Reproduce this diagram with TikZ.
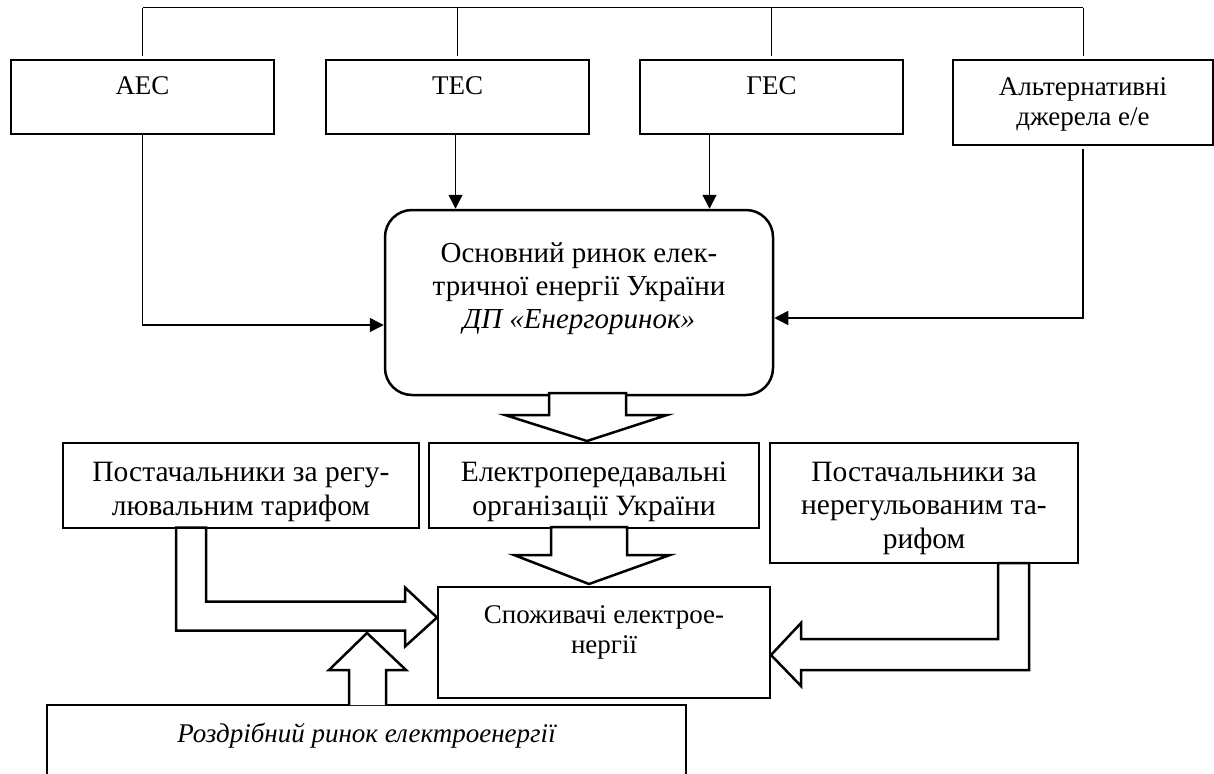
\documentclass[tikz,border=0pt]{standalone}
\usepackage{fontspec}
\setmainfont{Liberation Serif}
\usetikzlibrary{calc}
\usetikzlibrary{positioning}
\usetikzlibrary{shapes,arrows,arrows.meta}

\begin{document}
\begin{tikzpicture}[x=1pt, y=-1pt, >={Triangle[length=14pt,width=14pt]}]
            \path[use as bounding box, clip] (0,0) rectangle (1214,773);
            % Set primary nodes
            \tikzset{
                plantNode/.style={
                        draw,
                        rectangle,
                        line width=2pt,
                        inner sep=0pt,
                        minimum height=74pt,
                        minimum width=263pt,
                        align=center,
                        font=\fontsize{27}{30}\selectfont,
                        text height=18pt,
                        text depth=22pt
                    }
            }
            \tikzset{
                marketNode/.style={
                        draw,
                        rectangle,
                        rounded corners=27pt,
                        line width=2.5pt,
                        inner sep=0pt,
                        minimum height=185pt,
                        minimum width=388pt,
                        align=center,
                        font=\fontsize{29}{33}\selectfont,
                        text height=87pt,
                        text depth=36pt
                    }
            }
            \tikzset{
                supplierNode/.style={
                        draw,
                        rectangle,
                        line width=2pt,
                        inner sep=0pt,
                        minimum height=85pt,
                        align=center,
                        font=\fontsize{29.5}{33.5}\selectfont,
                        text height=59pt,
                        text depth=0pt
                    }
            }
            % Configure arrows
            \tikzstyle{busLine} = [line width=1pt]
            \tikzstyle{flowLine} = [line width=1.5pt, ->]
            \tikzstyle{blockArrow} = [draw, fill=white, line width=2.5pt, line join=miter]
            % Placing nodes
            \node[plantNode] (aes) at (142.5,97) {АЕС};
            \node[plantNode, right = 50pt of aes] (tes) {ТЕС};
            \node[plantNode, right = 49pt of tes] (ges) {ГЕС};
            \node[plantNode, minimum width=260pt, minimum height=85pt, text height=49pt, text depth=4pt] (alt) at (1083,102.5) {Альтернативні\\джерела е/е};
            \node[marketNode] (market) at (579,302.5) {Основний ринок елек-\\тричної енергії України\\\textit{ДП «Енергоринок»}};
            \node[supplierNode, minimum width=356pt] (supreg) at (241,485.5) {Постачальники за регу-\\лювальним тарифом};
            \node[supplierNode, minimum width=330pt, right = 8pt of supreg] (grid) {Електропередавальні\\організації України};
            \node[supplierNode, minimum width=308pt, minimum height=120pt, text height=90pt, right = 9pt of grid.north east, anchor=north west] (supfree) {Постачальники за\\нерегульованим та-\\рифом};
            \node[supplierNode, minimum width=332pt, minimum height=111pt, font=\fontsize{27}{30}\selectfont, text height=51pt, text depth=30pt] (consumers) at (604,642.5) {Споживачі електрое-\\нергії};
            \node[draw, rectangle, line width=2pt, minimum width=639pt, minimum height=90pt, font=\fontsize{27}{30}\selectfont\itshape, text height=18pt, text depth=33pt] (retail) at (366.5,750) {Роздрібний ринок електроенергії};
            % Draw bus lines
            \coordinate (bus) at (0,8);
            \draw[busLine] (aes.north |- bus) -- (alt.north |- bus);
            \foreach \plant in {aes,tes,ges,alt}
                \draw[busLine] (\plant.north |- bus) -- ([yshift=3pt]\plant.north);
            % Draw arrows
            \draw[flowLine] (aes.south) |- ([yshift=-22.5pt]market.west);
            \draw[flowLine] (alt.south) ++(0,3) |- ([yshift=-15.5pt]market.east);
            \draw[flowLine] ([xshift=-2pt]tes.south) -- ([xshift=-2pt]tes.south |- market.north);
            \draw[flowLine] ([xshift=-62pt]ges.south) -- ([xshift=-62pt]ges.south |- market.north);
            % Draw block arrows
            \draw[blockArrow] ([xshift=8pt,yshift=1pt]market.south |- grid.north) -- ++(-82,-26) -- ++(44,0) -- ++(0,-22) -- ++(77,0) -- ++(0,22) -- ++(41,0) -- cycle;
            \draw[blockArrow] ([xshift=-15pt,yshift=2pt]consumers.north) -- ++(-75,-29) -- ++(37,0) -- ++(0,-28) -- ++(76,0) -- ++(0,28) -- ++(43,0) -- cycle;
            \draw[blockArrow] ([yshift=25pt]consumers.west) -- ++(-32,-30) -- ++(0,14) -- ++(-199,0) -- ++(0,-74) -- ++(-30,0) -- ++(0,103) -- ++(229,0) -- ++(0,16) -- cycle;
            \draw[blockArrow] ([yshift=-12.5pt]consumers.east) -- ++(30,-32) -- ++(0,16) -- ++(197,0) -- ++(0,-76) -- ++(31,0) -- ++(0,107) -- ++(-228,0) -- ++(0,16) -- cycle;
            \draw[blockArrow] ([xshift=-17.5pt,yshift=-1pt]retail.north) -- ++(0,-35) -- ++(-20,0) -- ++(38,-37) -- ++(39,37) -- ++(-20,0) -- ++(0,35);

\end{tikzpicture}
\end{document}
